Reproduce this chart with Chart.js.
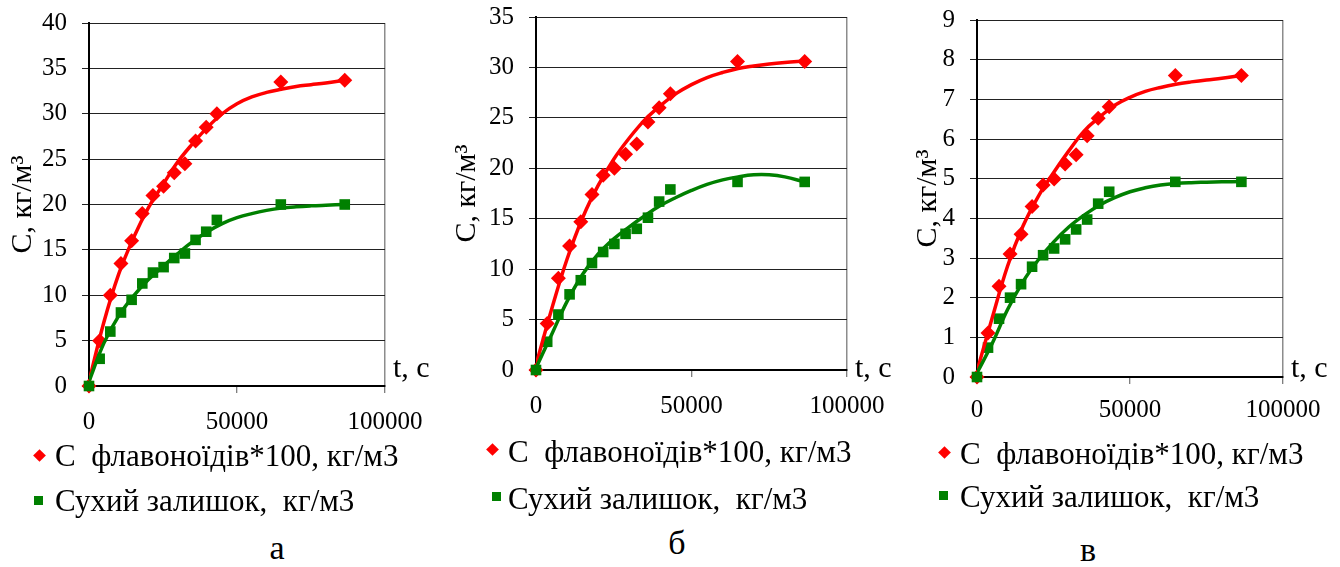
<!DOCTYPE html>
<html><head><meta charset="utf-8">
<script src="https://cdn.jsdelivr.net/npm/chart.js@4.4.1/dist/chart.umd.min.js"></script>
<style>
html,body{margin:0;padding:0;background:#fff;width:1340px;height:567px;overflow:hidden;}
body{position:relative;font-family:"Liberation Serif","Times New Roman",Times,"DejaVu Serif",serif;color:#000;}
canvas{position:absolute;top:0;}
.lg{position:absolute;font-size:31px;line-height:36px;white-space:pre;}
.dia{position:absolute;width:9px;height:9px;background:#ff0000;transform:rotate(45deg);}
.sq{position:absolute;width:9px;height:9px;background:#008000;}
.cap{position:absolute;font-size:34px;line-height:40px;width:60px;text-align:center;}
</style></head><body>
<canvas id="ca" width="440" height="460" style="left:0px"></canvas>
<canvas id="cb" width="460" height="460" style="left:445px"></canvas>
<canvas id="cc" width="434" height="460" style="left:906px"></canvas>

<div class="dia" style="left:35px;top:451px"></div>
<div class="lg" id="la1" style="left:55px;top:438px"></div>
<div class="sq" style="left:34px;top:496px"></div>
<div class="lg" id="la2" style="left:55px;top:483px"></div>
<div class="cap" id="capA" style="left:247px;top:528px"></div>

<div class="dia" style="left:488px;top:445px"></div>
<div class="lg" id="lb1" style="left:508px;top:434px"></div>
<div class="sq" style="left:492px;top:492px"></div>
<div class="lg" id="lb2" style="left:508px;top:481px"></div>
<div class="cap" id="capB" style="left:647px;top:523px"></div>

<div class="dia" style="left:940px;top:448px"></div>
<div class="lg" id="lc1" style="left:960px;top:436px"></div>
<div class="sq" style="left:939px;top:491px"></div>
<div class="lg" id="lc2" style="left:960px;top:479px"></div>
<div class="cap" id="capC" style="left:1058px;top:530px"></div>

<script>
// ---- data ----
const times = [0, 3600, 7200, 10800, 14400, 18000, 21600, 25200, 28800, 32400, 36000, 39600, 43200, 64800, 86400];
const flavA = [0, 5.0, 10.0, 13.5, 16.0, 19.0, 21.0, 22.0, 23.5, 24.5, 27.0, 28.5, 30.0, 33.5, 33.7];
const dryA  = [0, 3.0, 6.0, 8.1, 9.5, 11.3, 12.5, 13.1, 14.1, 14.6, 16.1, 17.0, 18.3, 20.0, 20.0];
const flavB = [0, 4.6, 9.1, 12.3, 14.7, 17.4, 19.3, 20.0, 21.4, 22.4, 24.6, 26.0, 27.4, 30.6, 30.6];
const dryB  = [0, 2.8, 5.5, 7.5, 8.9, 10.6, 11.7, 12.5, 13.5, 14.0, 15.1, 16.7, 17.9, 18.65, 18.65];
const flavC = [0, 1.11, 2.29, 3.1, 3.6, 4.3, 4.84, 4.99, 5.37, 5.6, 6.08, 6.52, 6.81, 7.6, 7.6];
const dryC  = [0, 0.74, 1.47, 2.0, 2.34, 2.78, 3.07, 3.24, 3.47, 3.72, 3.97, 4.37, 4.67, 4.92, 4.92];

// trend lines
const trendT = [0, 5000, 10000, 15000, 20000, 25000, 30000, 35000, 40000, 45000, 50000, 55000, 60000, 65000, 70000, 75000, 80000, 86400];
const flavTrendA = [0.5, 7.0, 12.3, 16.3, 19.6, 22.2, 24.7, 26.7, 28.5, 30.0, 31.1, 31.85, 32.35, 32.7, 33.0, 33.2, 33.4, 33.7];
const dryTrendA  = [0.5, 4.7, 7.7, 9.9, 11.7, 13.2, 14.6, 15.9, 17.0, 17.9, 18.55, 19.0, 19.35, 19.6, 19.75, 19.85, 19.92, 20.0];
const flavTrendB = [0.5, 6.0, 11.0, 15.1, 18.3, 20.9, 23.0, 24.8, 26.2, 27.4, 28.3, 29.0, 29.5, 29.9, 30.15, 30.35, 30.5, 30.65];
const dryTrendB  = [0.2, 3.5, 6.8, 9.5, 11.5, 13.0, 14.2, 15.3, 16.3, 17.1, 17.8, 18.4, 18.85, 19.15, 19.35, 19.35, 19.15, 18.65];
const flavTrendC = [0.15, 1.5, 2.8, 3.8, 4.55, 5.15, 5.7, 6.2, 6.55, 6.85, 7.05, 7.2, 7.3, 7.38, 7.44, 7.49, 7.53, 7.6];
const dryTrendC  = [0.1, 0.85, 1.7, 2.4, 2.95, 3.4, 3.78, 4.08, 4.33, 4.52, 4.67, 4.77, 4.84, 4.88, 4.9, 4.91, 4.92, 4.93];

const xTicks = [0, 50000, 100000];
const yTicksA = [0, 5, 10, 15, 20, 25, 30, 35, 40];
const yTicksB = [0, 5, 10, 15, 20, 25, 30, 35];
const yTicksC = [0, 1, 2, 3, 4, 5, 6, 7, 8, 9];

const labelFlav = 'C  флавоноїдів*100, кг/м3';
const labelDry = 'Сухий залишок,  кг/м3';
const yTitle = 'C, кг/м³';
const xTitle = 't, c';
const captions = ['а', 'б', 'в'];

// ---- drawing ----
const FONT = '"Liberation Serif", "Times New Roman", Times, "DejaVu Serif", serif';
const RED = '#ff0000', GREEN = '#008000';
function pts(xs, ys) { return xs.map((x, i) => ({x: x, y: ys[i]})); }

const xTitlePlugin = {
  id: 'xTitle',
  afterDraw(chart) {
    const ctx = chart.ctx;
    ctx.save();
    ctx.font = '30px ' + FONT;
    ctx.fillStyle = '#000';
    ctx.textBaseline = 'alphabetic';
    ctx.textAlign = 'left';
    ctx.fillText(xTitle, chart.chartArea.right + 8, 377);
    ctx.restore();
  }
};

function makeChart(id, flav, dry, flavTr, dryTr, yTicks, L) {
  const yStep = yTicks[1] - yTicks[0];
  new Chart(document.getElementById(id), {
    type: 'scatter',
    data: {
      datasets: [
        {data: pts(trendT, dryTr), showLine: true, pointRadius: 0, borderColor: GREEN, borderWidth: 3.5, tension: 0.4, fill: false},
        {data: pts(trendT, flavTr), showLine: true, pointRadius: 0, borderColor: RED, borderWidth: 3.5, tension: 0.4, fill: false},
        {data: pts(times, dry), showLine: false, pointStyle: 'rect', pointRadius: 7.5, backgroundColor: GREEN, borderWidth: 0, clip: false},
        {data: pts(times, flav), showLine: false, pointStyle: 'rectRot', pointRadius: 7.5, backgroundColor: RED, borderWidth: 0, clip: false}
      ]
    },
    options: {
      responsive: false,
      animation: false,
      events: [],
      layout: {padding: {left: 0, top: L.top, right: L.right, bottom: L.bottom}},
      plugins: {legend: {display: false}, tooltip: {enabled: false}},
      scales: {
        x: {
          type: 'linear', min: xTicks[0], max: xTicks[xTicks.length - 1],
          afterBuildTicks: s => { s.ticks = xTicks.map(v => ({value: v})); },
          afterFit: s => { s.height = 60; s.paddingLeft = 0; s.paddingRight = 0; },
          ticks: {font: {family: FONT, size: 25}, color: '#000', padding: L.xpad, maxRotation: 0, callback: v => String(v)},
          grid: {
            drawOnChartArea: true, drawTicks: true, tickLength: 7, tickWidth: 1, tickColor: '#555',
            color: c => (c.tick && c.tick.value === xTicks[xTicks.length - 1]) ? '#8c8c8c' : 'rgba(0,0,0,0)',
            lineWidth: 1.5
          },
          border: {display: true, color: '#000', width: 2}
        },
        y: {
          type: 'linear', min: yTicks[0], max: yTicks[yTicks.length - 1],
          afterBuildTicks: s => { s.ticks = yTicks.map(v => ({value: v})); },
          afterFit: s => { s.width = L.yw; s.paddingTop = 0; s.paddingBottom = 0; },
          ticks: {font: {family: FONT, size: 25}, color: '#000', padding: 15, stepSize: yStep},
          grid: {color: '#222', lineWidth: 1, tickLength: 7, tickColor: '#222'},
          border: {display: true, color: '#000', width: 2},
          title: {display: true, text: yTitle, color: '#000', font: {family: FONT, size: 30}, padding: {top: L.tpad, bottom: 0}}
        }
      }
    },
    plugins: [xTitlePlugin]
  });
}

makeChart('ca', flavA, dryA, flavTrendA, dryTrendA, yTicksA, {top: 23, right: 55, bottom: 14, yw: 89, tpad: 5, xpad: 14});
makeChart('cb', flavB, dryB, flavTrendB, dryTrendB, yTicksB, {top: 17, right: 58, bottom: 30, yw: 91, tpad: 4, xpad: 14});
makeChart('cc', flavC, dryC, flavTrendC, dryTrendC, yTicksC, {top: 20, right: 57, bottom: 23, yw: 71, tpad: 4, xpad: 11});

['la1', 'lb1', 'lc1'].forEach(id => document.getElementById(id).textContent = labelFlav);
['la2', 'lb2', 'lc2'].forEach(id => document.getElementById(id).textContent = labelDry);
['capA', 'capB', 'capC'].forEach((id, i) => document.getElementById(id).textContent = captions[i]);
</script>
</body></html>
